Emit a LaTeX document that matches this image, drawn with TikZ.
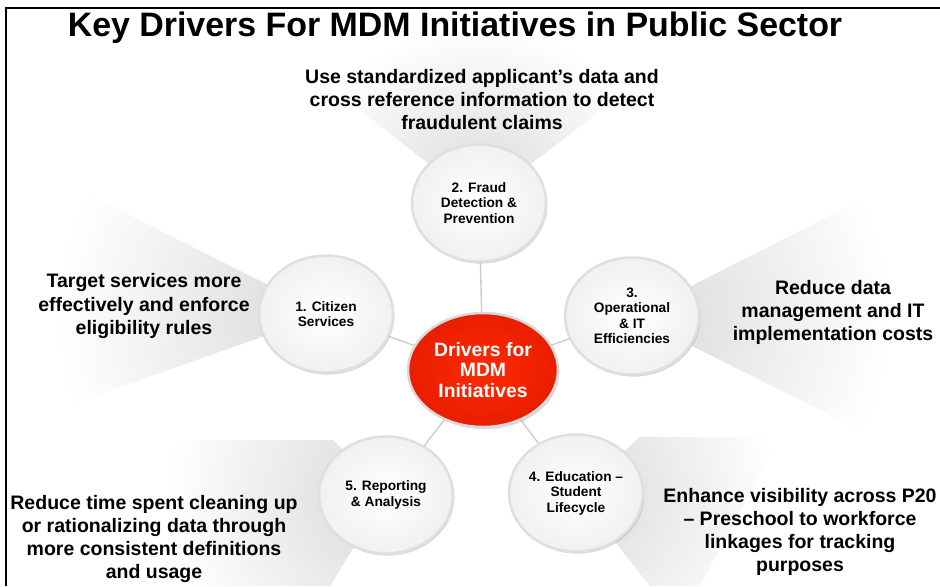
\documentclass[tikz,border=0pt]{standalone}
\usepackage{fontspec}
\setmainfont{Liberation Sans}
\usetikzlibrary{shapes.geometric,shadows,backgrounds}

\definecolor{hubred}{RGB}{255,42,5}
\definecolor{hubdark}{RGB}{232,30,0}

\begin{document}
\begin{tikzpicture}[x=0.02cm,y=-0.02cm,
		driver/.style={ellipse, draw=gray!25, line width=1.4pt, minimum width=2.68cm, minimum height=2.34cm, inner sep=0pt, align=center, inner color=white, outer color=gray!11, font=\fontsize{7.8}{8.8}\selectfont\bfseries, drop shadow={opacity=0.3, shadow xshift=0.8pt, shadow yshift=-1.2pt}},
		hub/.style={ellipse, draw=gray!30, line width=1.4pt, minimum width=3cm, minimum height=2.28cm, inner sep=0pt, align=center, inner color=hubred, outer color=hubdark, text=white, font=\fontsize{11}{11.8}\selectfont\bfseries, drop shadow={opacity=0.3, shadow xshift=0.8pt, shadow yshift=-1.2pt}},
		goal/.style={align=center, font=\fontsize{11.1}{13.1}\selectfont\bfseries},
		spoke/.style={draw=gray!40, line width=0.8pt},
		wedgefill/.style={inner color=gray!30, outer color=white}]

		\useasboundingbox (0,0) rectangle (940,586);

		% frame
		\draw[line width=1.1pt] (6,586) -- (6,8) -- (940,8);

		\node[font=\fontsize{19.3}{22}\selectfont\bfseries] (title) at (455,28) {Key Drivers For MDM Initiatives in Public Sector};

		% the five drivers round the hub
		\node[hub] (hub) at (483,370) {Drivers for\\MDM\\Initiatives};

		\node[driver] (citizen) at (326,314) {1. Citizen\\Services};
		\node[driver] (fraud) at (479,203) {2. Fraud\\Detection \&\\Prevention};
		\node[driver] (ops) at (632,316) {3.\\Operational\\\& IT\\Efficiencies};
		\node[driver] (edu) at (576,493) {4. Education \textendash\\Student\\Lifecycle};
		\node[driver] (report) at (386,495) {5. Reporting\\\& Analysis};

		% what each driver is for
		\node[goal] (fraudgoal) at (482,100) {Use standardized applicant's data and\\cross reference information to detect\\fraudulent claims};
		\node[goal] (citizengoal) at (144,306) {Target services more\\effectively and enforce\\eligibility rules};
		\node[goal] (opsgoal) at (833,312) {Reduce data\\management and IT\\implementation costs};
		\node[goal] (reportgoal) at (154,539) {Reduce time spent cleaning up\\or rationalizing data through\\more consistent definitions\\and usage};
		\node[goal] (edugoal) at (800,532) {Enhance visibility across P20\\\textendash\ Preschool to workforce\\linkages for tracking\\purposes};

		\begin{scope}[on background layer]
			% grey fans behind the drivers
			\begin{scope}
				\clip (fraud.center) -- (270,40) -- (695,40) -- cycle;
				\shade[wedgefill] (fraud.center) circle (3.6cm);
			\end{scope}
			\begin{scope}
				\clip (citizen.center) -- (0,150) -- (0,430) -- cycle;
				\shade[wedgefill] (citizen.center) circle (5.4cm);
			\end{scope}
			\begin{scope}
				\clip (ops.center) -- (940,160) -- (940,470) -- cycle;
				\shade[wedgefill] (ops.center) circle (5.2cm);
			\end{scope}
			\begin{scope}
				\clip (report.center) -- (333,440) -- (180,440) -- (60,586) -- (330,586) -- cycle;
				\shade[wedgefill] (report.center) circle (4.4cm);
			\end{scope}
			\begin{scope}
				\clip (edu.center) -- (640,437) -- (780,437) -- (700,586) -- (650,586) -- cycle;
				\shade[wedgefill] (edu.center) circle (4cm);
			\end{scope}

			\draw[spoke] (hub.center) -- (citizen.center);
			\draw[spoke] (hub.center) -- (fraud.center);
			\draw[spoke] (hub.center) -- (ops.center);
			\draw[spoke] (hub.center) -- (edu.center);
			\draw[spoke] (hub.center) -- (report.center);
		\end{scope}
	\end{tikzpicture}
\end{document}
